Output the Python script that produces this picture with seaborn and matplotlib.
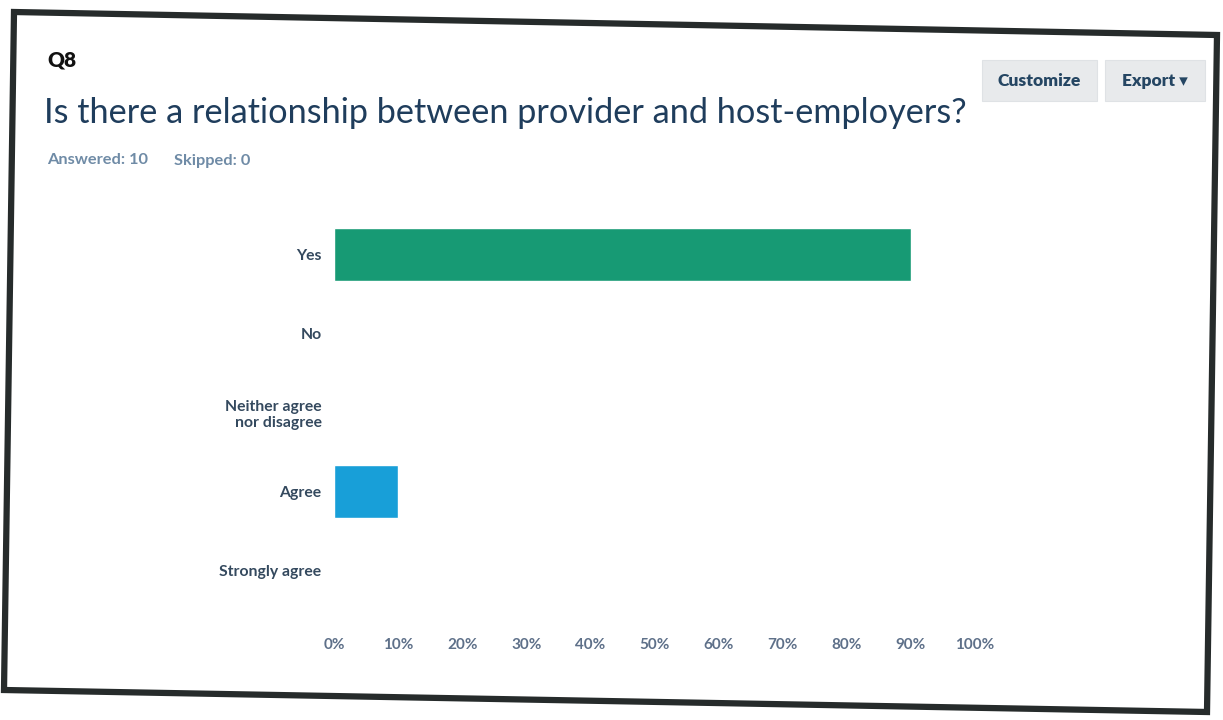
import matplotlib
matplotlib.use("Agg")
import matplotlib.pyplot as plt
from matplotlib.patches import Polygon, FancyBboxPatch
import seaborn as sns
import pandas as pd

# Survey answers for Q8
categories = ["Yes", "No", "Neither agree\nnor disagree", "Agree", "Strongly agree"]
percentages = [90, 0, 0, 10, 0]
bar_colors = ["#179a74", "#179a74", "#179a74", "#189fd8", "#189fd8"]
tick_values = [0, 10, 20, 30, 40, 50, 60, 70, 80, 90, 100]
tick_labels = [f"{v}%" for v in tick_values]

question_id = "Q8"
question_text = "Is there a relationship between provider and host-employers?"
answered = 10
skipped = 0

sns.set_theme(style="white")
plt.rcParams["font.family"] = ["Lato", "DejaVu Sans"]

W, H = 1223, 720
fig = plt.figure(figsize=(W / 100, H / 100), dpi=100)
fig.patch.set_facecolor("white")

def fx(px):
    return px / W

def fy(py):
    return 1 - py / H

# Panel frame
frame = Polygon([(fx(14), fy(12)), (fx(1217), fy(35)), (fx(1207), fy(712)), (fx(4), fy(690))],
                closed=True, transform=fig.transFigure, facecolor="none",
                edgecolor="#262b2b", linewidth=4.5, zorder=5)
fig.patches.append(frame)

ax = fig.add_axes([fx(334), fy(610), fx(975) - fx(334), (610 - 215) / H])
df = pd.DataFrame({"answer": categories, "pct": percentages})
sns.barplot(data=df, x="pct", y="answer", hue="answer", palette=bar_colors,
            legend=False, width=0.66, saturation=1, ax=ax)
ax.set_xlim(0, 100)
ax.set_ylim(len(categories) - 0.5, -0.5)
ax.set_xticks(tick_values)
ax.set_xticklabels(tick_labels)
ax.set_xlabel("")
ax.set_ylabel("")
ax.set_facecolor("none")
for s in ax.spines.values():
    s.set_visible(False)
ax.tick_params(axis="both", length=0)
ax.tick_params(axis="x", pad=20, labelsize=11, labelcolor="#5e7089")
ax.tick_params(axis="y", pad=9, labelsize=11.3, labelcolor="#34495e")
for lbl in ax.get_xticklabels() + ax.get_yticklabels():
    lbl.set_fontweight("bold")

# Header texts
fig.text(fx(47), fy(60), question_id, fontsize=15, fontweight="heavy",
         color="#111111", va="center", ha="left")
fig.text(fx(44), fy(113), question_text, fontsize=24.7, color="#1f3d5c",
         va="center", ha="left")
fig.text(fx(47), fy(160), f"Answered: {answered}", fontsize=11.8, fontweight="bold",
         color="#6f8ba6", va="center", ha="left")
fig.text(fx(174), fy(161), f"Skipped: {skipped}", fontsize=11.8, fontweight="bold",
         color="#6f8ba6", va="center", ha="left")

# Buttons
for x0, x1, label in [(982, 1097, "Customize"), (1105, 1205, "Export \u25BE")]:
    box = FancyBboxPatch((fx(x0), fy(101)), fx(x1) - fx(x0), (101 - 60) / H,
                         boxstyle="square,pad=0", transform=fig.transFigure,
                         facecolor="#e8eaec", edgecolor="#dfe2e5", linewidth=0.8)
    fig.patches.append(box)
    fig.text((fx(x0) + fx(x1)) / 2, fy(81), label, fontsize=12.5, fontweight="heavy",
             color="#254663", ha="center", va="center")

fig.savefig("out.png", dpi=100, facecolor="white")
